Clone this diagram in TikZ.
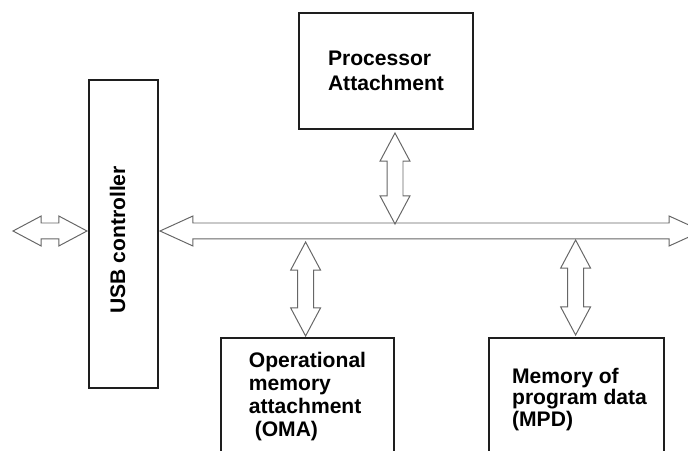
\documentclass[tikz,border=0pt]{standalone}
\usepackage{fontspec}
\setmainfont{Liberation Sans}
\usetikzlibrary{shapes.arrows}
\definecolor{linegray}{HTML}{666666}
\definecolor{boxline}{HTML}{1E1E1E}
\tikzset{
  block/.style={draw=boxline, line width=0.9pt, rectangle, inner sep=0pt, align=left},
  blocktext/.style={font=\bfseries\fontsize{15}{#1}\selectfont},
  dblarrow/.style={double arrow, draw=linegray, line width=0.7pt, inner xsep=0pt, inner ysep=0.1875cm,
    double arrow head extend=0.175cm, double arrow tip angle=56, minimum width=0.725cm}
}

\begin{document}
\begin{tikzpicture}
\useasboundingbox (0,0) rectangle (17.2,11.25);
\clip (0,0) rectangle (17.2,11.25);
% blocks
\node[block, minimum width=1.725cm, minimum height=7.7cm] (usb) at (3.0875,5.4) {};
\node[rotate=90, blocktext=18] (usblabel) at (2.94,5.25) {USB controller};
\node[block, blocktext=17.8, minimum width=4.35cm, minimum height=2.9cm] (proc) at (9.65,9.475) {Processor\\Attachment};
\node[block, blocktext=16.35, minimum width=4.325cm, minimum height=2.95cm] (oma) at (7.6875,1.325) {Operational\\memory\\attachment\\~(OMA)};
\node[block, blocktext=15.6, minimum width=4.375cm, minimum height=3.075cm] (mpd) at (14.4125,1.2625) {\hspace{0.15cm}Memory of\\\hspace{0.15cm}program data\\\hspace{0.15cm}(MPD)};
% arrows
\node[dblarrow, minimum height=1.85cm] (usbarrow) at (1.25,5.475) {};
\node[dblarrow, minimum height=13.55cm, double arrow tip angle=49] (bus) at (10.775,5.475) {};
\node[dblarrow, rotate=90, minimum height=2.275cm] (procarrow) at (9.875,6.7875) {};
\node[dblarrow, rotate=90, minimum height=2.35cm] (omaarrow) at (7.64,4.025) {};
\node[dblarrow, rotate=90, minimum height=2.375cm] (mpdarrow) at (14.39,4.0625) {};
\end{tikzpicture}
\end{document}
